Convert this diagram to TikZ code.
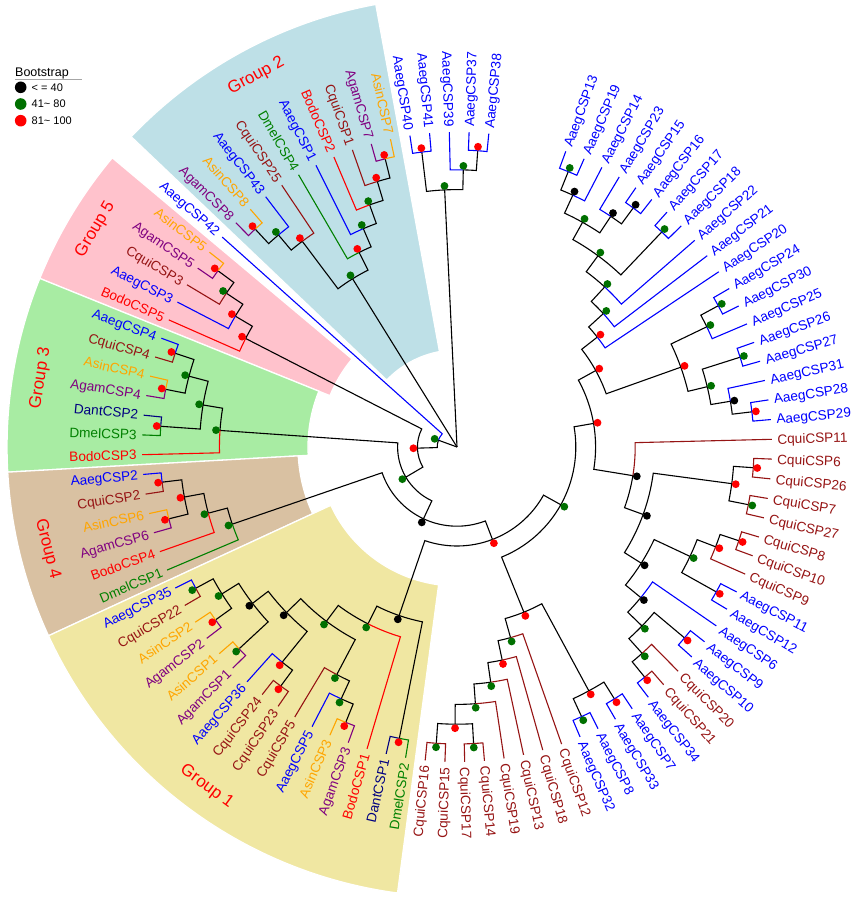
\documentclass[tikz,border=0pt]{standalone}
\usepackage{fontspec}
\setmainfont{Liberation Sans}
\definecolor{cA}{RGB}{0,0,255}
\definecolor{cC}{RGB}{150,20,20}
\definecolor{cG}{RGB}{128,0,128}
\definecolor{cS}{RGB}{255,165,0}
\definecolor{cB}{RGB}{255,0,0}
\definecolor{cD}{RGB}{0,128,0}
\definecolor{cN}{RGB}{0,0,128}
\definecolor{bsK}{RGB}{0,0,0}
\definecolor{bsG}{RGB}{0,112,0}
\definecolor{bsR}{RGB}{255,0,0}
\definecolor{gTwo}{RGB}{190,224,231}
\definecolor{gFive}{RGB}{255,194,204}
\definecolor{gThree}{RGB}{168,236,163}
\definecolor{gFour}{RGB}{217,193,162}
\definecolor{gOne}{RGB}{240,231,162}
\tikzset{
  lab/.style={inner sep=0pt, text height=9.7pt, text depth=0pt, font=\fontsize{13.6}{15}\selectfont},
  grp/.style={text=red, inner sep=0pt, font=\fontsize{17}{20}\selectfont},
  leg/.style={inner sep=0pt, anchor=west, font=\fontsize{11}{13}\selectfont},
}
% branch: parent angle, parent radius, child angle, child radius
\newcommand\brc[5][black]{\draw[#1] (#2:#3pt) arc[start angle=#2, end angle=#4, radius=#3pt] -- (#4:#5pt);}
% leaf: index, name, colour, parent angle, parent radius
\newcommand\leaf[5]{%
  \pgfmathsetmacro\th{70-3.6*#1}%
  \draw[#3] (#4:#5pt) arc[start angle=#4, end angle=\th, radius=#5pt] -- (\th:315pt);%
  \pgfmathtruncatemacro\flip{and(\th < -90, \th > -270)}%
  \ifnum\flip=1
    \pgfmathsetmacro\rot{\th+180}%
    \node[lab,text=#3,anchor=east,rotate=\rot] (#2) at (\th:320pt) {#2};%
  \else
    \node[lab,text=#3,anchor=west,rotate=\th] (#2) at (\th:320pt) {#2};%
  \fi}
% bootstrap dot: angle, radius, colour
\newcommand\bs[3]{\pgfmathsetmacro\drad{#2+4}\fill[#3] (#1:\drad pt) circle[radius=3.9pt];}
% sector: angle1, angle2, inner r, outer r, colour
\newcommand\sector[5]{\filldraw[fill=#5,draw=white,line width=1.3pt] (#1:#3pt) arc[start angle=#1,end angle=#2,radius=#3pt] -- (#2:#4pt) arc[start angle=#2,end angle=#1,radius=#4pt] -- cycle;}
\begin{document}
\begin{tikzpicture}[x=1pt,y=1pt]
\useasboundingbox (0,-901) rectangle (856,0);
\fill[white] (0,-901) rectangle (856,0);
% legend
\node[inner sep=0pt, anchor=base west, font=\fontsize{12.5}{14}\selectfont] (legtitle) at (15,-76.5) {Bootstrap};
\draw[gray!70, line width=0.9pt] (15,-79) -- (82,-79);
\fill[bsK] (20.7,-87.3) circle[radius=5.8pt];
\fill[bsG] (20.7,-104) circle[radius=5.8pt];
\fill[bsR] (20.7,-120.7) circle[radius=5.8pt];
\node[leg] (leg1) at (31.5,-87.3) {< = 40};
\node[leg] (leg2) at (31.5,-104) {41\textasciitilde{} 80};
\node[leg] (leg3) at (31.5,-120.7) {81\textasciitilde{} 100};
\begin{scope}[shift={(457,-447)},rotate=-0.2]
% group sectors
\sector{-259.4}{-223.4}{97}{450}{gTwo}
\sector{-219.8}{-201.8}{137}{450}{gFive}
\sector{-201.8}{-176.6}{149}{450}{gThree}
\sector{-176.6}{-155}{159}{450}{gFour}
\sector{-155}{-97.4}{139}{450}{gOne}
\node[grp,rotate=28.6] (grp2) at (118.6:422pt) {Group 2};
\node[grp,rotate=59.2] (grp5) at (149.2:422pt) {Group 5};
\node[grp,rotate=80.8] (grp3) at (170.8:422pt) {Group 3};
\node[grp,rotate=284.2] (grp4) at (194.2:422pt) {Group 4};
\node[grp,rotate=323.8] (grp1) at (233.8:422pt) {Group 1};
\begin{scope}[line width=1.1pt]
% root
\draw (0,0) -- (-199.875:19.8pt);
\draw (0,0) -- (-237.97:198pt);
\draw (0,0) -- (-267.05:257.4pt);
% clade A
\brc{65.5}{277.2}{68.2}{297}
\brc{61}{257.4}{65.5}{277.2}
\brc{56.5}{277.2}{53.8}{297}
\brc{61}{257.4}{56.5}{277.2}
\brc{53.8}{237.6}{61}{257.4}
\brc{53.8}{237.6}{46.6}{297}
\brc{47.5}{217.8}{53.8}{237.6}
\brc{42.55}{198}{47.5}{217.8}
\brc{38.275}{178.2}{42.55}{198}
\brc{29.05}{158.4}{38.275}{178.2}
\brc{25.9}{277.2}{28.6}{297}
\brc{19.825}{237.6}{25.9}{277.2}
\brc{13.75}{257.4}{17.8}{297}
\brc{9.7}{277.2}{7}{297}
\brc{13.75}{257.4}{9.7}{277.2}
\brc{19.825}{237.6}{13.75}{257.4}
\brc{29.05}{158.4}{19.825}{237.6}
\brc{9.995}{138.6}{29.05}{158.4}
% clade Q
\brc{-7.4}{277.2}{-3.8}{297}
\brc{-7.4}{277.2}{-11}{297}
\brc{-19.71875}{198}{-7.4}{277.2}
\brc{-20.9}{277.2}{-18.2}{297}
\brc{-24.95}{257.4}{-20.9}{277.2}
\brc{-24.95}{257.4}{-29}{297}
\brc{-32.0375}{217.8}{-24.95}{257.4}
\brc{-43.85}{257.4}{-39.8}{297}
\brc{-47.9}{277.2}{-50.6}{297}
\brc{-43.85}{257.4}{-47.9}{277.2}
\brc{-39.125}{237.6}{-43.85}{257.4}
\brc{-32.0375}{217.8}{-39.125}{237.6}
\brc{-19.71875}{198}{-32.0375}{217.8}
\brc{-9.059}{178.2}{-19.71875}{198}
\brc{9.995}{138.6}{-9.059}{178.2}
\brc{-28.88}{118.8}{9.995}{138.6}
% clade B
\brc{-61.4}{277.2}{-57.8}{297}
\brc{-61.4}{277.2}{-65}{297}
\brc{-67.756}{178.2}{-61.4}{277.2}
\brc{-90.2}{277.2}{-86.6}{297}
\brc{-90.2}{277.2}{-93.8}{297}
\brc{-85.7}{257.4}{-90.2}{277.2}
\brc{-81.65}{237.6}{-85.7}{257.4}
\brc{-77.825}{217.8}{-81.65}{237.6}
\brc{-74.1125}{198}{-77.825}{217.8}
\brc{-67.756}{178.2}{-74.1125}{198}
\brc{-28.88}{118.8}{-67.756}{178.2}
\brc{-68.82}{99}{-28.88}{118.8}
% group 1
\brc{-108.7625}{178.2}{-101}{297}
\brc{-114.5}{277.2}{-111.8}{297}
\brc{-117.65}{257.4}{-114.5}{277.2}
\brc{-126.65}{217.8}{-117.65}{257.4}
\brc{-128.9}{277.2}{-126.2}{297}
\brc{-135.65}{237.6}{-128.9}{277.2}
\brc{-142.4}{257.4}{-137}{297}
\brc{-147.8}{277.2}{-144.2}{297}
\brc{-147.8}{277.2}{-151.4}{297}
\brc{-142.4}{257.4}{-147.8}{277.2}
\brc{-135.65}{237.6}{-142.4}{257.4}
\brc{-126.65}{217.8}{-135.65}{237.6}
\brc{-116.525}{198}{-126.65}{217.8}
\brc{-108.7625}{178.2}{-116.525}{198}
\brc{-68.82}{99}{-108.7625}{178.2}
\brc{-114.835}{79.2}{-68.82}{99}
% group 4
\brc{-169.4}{277.2}{-173}{297}
\brc{-169.4}{277.2}{-165.8}{297}
\brc{-164.9}{257.4}{-169.4}{277.2}
\brc{-160.85}{237.6}{-164.9}{257.4}
\brc{-114.835}{79.2}{-160.85}{237.6}
\brc{-149.32}{59.4}{-114.835}{79.2}
% group 3
\brc{-194.6}{277.2}{-198.2}{297}
\brc{-194.6}{277.2}{-191}{297}
\brc{-189.2}{257.4}{-194.6}{277.2}
\brc{-189.2}{257.4}{-183.8}{297}
\brc{-183.8}{237.6}{-189.2}{257.4}
\brc{-149.32}{59.4}{-183.8}{237.6}
\brc{-178.15}{39.6}{-149.32}{59.4}
% group 5
\brc{-213.5}{277.2}{-216.2}{297}
\brc{-210.35}{257.4}{-213.5}{277.2}
\brc{-206.975}{237.6}{-210.35}{257.4}
\brc{-178.15}{39.6}{-206.975}{237.6}
\brc{-199.875}{19.8}{-178.15}{39.6}
% group 2
\brc{-229.7}{277.2}{-227}{297}
\brc{-232.85}{257.4}{-229.7}{277.2}
\brc{-237.97}{198}{-232.85}{257.4}
\brc{-253.1}{277.2}{-255.8}{297}
\brc{-249.95}{257.4}{-253.1}{277.2}
\brc{-246.575}{237.6}{-249.95}{257.4}
\brc{-243.0875}{217.8}{-246.575}{237.6}
\brc{-237.97}{198}{-243.0875}{217.8}
% clade 40-38
\brc{-267.05}{257.4}{-263}{297}
\brc{-271.1}{277.2}{-273.8}{297}
\brc{-267.05}{257.4}{-271.1}{277.2}
% leaves
\leaf{0}{AaegCSP13}{cA}{68.2}{297}
\leaf{1}{AaegCSP19}{cA}{68.2}{297}
\leaf{2}{AaegCSP14}{cA}{65.5}{277.2}
\leaf{3}{AaegCSP23}{cA}{56.5}{277.2}
\leaf{4}{AaegCSP15}{cA}{53.8}{297}
\leaf{5}{AaegCSP16}{cA}{53.8}{297}
\leaf{6}{AaegCSP17}{cA}{46.6}{297}
\leaf{7}{AaegCSP18}{cA}{46.6}{297}
\leaf{8}{AaegCSP22}{cA}{47.5}{217.8}
\leaf{9}{AaegCSP21}{cA}{42.55}{198}
\leaf{10}{AaegCSP20}{cA}{38.275}{178.2}
\leaf{11}{AaegCSP24}{cA}{28.6}{297}
\leaf{12}{AaegCSP30}{cA}{28.6}{297}
\leaf{13}{AaegCSP25}{cA}{25.9}{277.2}
\leaf{14}{AaegCSP26}{cA}{17.8}{297}
\leaf{15}{AaegCSP27}{cA}{17.8}{297}
\leaf{16}{AaegCSP31}{cA}{9.7}{277.2}
\leaf{17}{AaegCSP28}{cA}{7}{297}
\leaf{18}{AaegCSP29}{cA}{7}{297}
\leaf{19}{CquiCSP11}{cC}{-9.059}{178.2}
\leaf{20}{CquiCSP6}{cC}{-3.8}{297}
\leaf{21}{CquiCSP26}{cC}{-3.8}{297}
\leaf{22}{CquiCSP7}{cC}{-11}{297}
\leaf{23}{CquiCSP27}{cC}{-11}{297}
\leaf{24}{CquiCSP8}{cC}{-18.2}{297}
\leaf{25}{CquiCSP10}{cC}{-18.2}{297}
\leaf{26}{CquiCSP9}{cC}{-20.9}{277.2}
\leaf{27}{AaegCSP11}{cA}{-29}{297}
\leaf{28}{AaegCSP12}{cA}{-29}{297}
\leaf{29}{AaegCSP6}{cA}{-39.125}{237.6}
\leaf{30}{AaegCSP9}{cA}{-39.8}{297}
\leaf{31}{AaegCSP10}{cA}{-39.8}{297}
\leaf{32}{CquiCSP20}{cC}{-47.9}{277.2}
\leaf{33}{CquiCSP21}{cC}{-50.6}{297}
\leaf{34}{AaegCSP34}{cA}{-50.6}{297}
\leaf{35}{AaegCSP7}{cA}{-57.8}{297}
\leaf{36}{AaegCSP33}{cA}{-57.8}{297}
\leaf{37}{AaegCSP8}{cA}{-65}{297}
\leaf{38}{AaegCSP32}{cA}{-65}{297}
\leaf{39}{CquiCSP12}{cC}{-74.1125}{198}
\leaf{40}{CquiCSP18}{cC}{-77.825}{217.8}
\leaf{41}{CquiCSP13}{cC}{-81.65}{237.6}
\leaf{42}{CquiCSP19}{cC}{-85.7}{257.4}
\leaf{43}{CquiCSP14}{cC}{-86.6}{297}
\leaf{44}{CquiCSP17}{cC}{-86.6}{297}
\leaf{45}{CquiCSP15}{cC}{-93.8}{297}
\leaf{46}{CquiCSP16}{cC}{-93.8}{297}
\leaf{47}{DmelCSP2}{cD}{-101}{297}
\leaf{48}{DantCSP1}{cN}{-101}{297}
\leaf{49}{BodoCSP1}{cB}{-116.525}{198}
\leaf{50}{AgamCSP3}{cG}{-111.8}{297}
\leaf{51}{AsinCSP3}{cS}{-111.8}{297}
\leaf{52}{AaegCSP5}{cA}{-114.5}{277.2}
\leaf{53}{CquiCSP5}{cC}{-117.65}{257.4}
\leaf{54}{CquiCSP23}{cC}{-126.2}{297}
\leaf{55}{CquiCSP24}{cC}{-126.2}{297}
\leaf{56}{AaegCSP36}{cA}{-128.9}{277.2}
\leaf{57}{AgamCSP1}{cG}{-137}{297}
\leaf{58}{AsinCSP1}{cS}{-137}{297}
\leaf{59}{AgamCSP2}{cG}{-144.2}{297}
\leaf{60}{AsinCSP2}{cS}{-144.2}{297}
\leaf{61}{CquiCSP22}{cC}{-151.4}{297}
\leaf{62}{AaegCSP35}{cA}{-151.4}{297}
\leaf{63}{DmelCSP1}{cD}{-160.85}{237.6}
\leaf{64}{BodoCSP4}{cB}{-164.9}{257.4}
\leaf{65}{AgamCSP6}{cG}{-165.8}{297}
\leaf{66}{AsinCSP6}{cS}{-165.8}{297}
\leaf{67}{CquiCSP2}{cC}{-173}{297}
\leaf{68}{AaegCSP2}{cA}{-173}{297}
\leaf{69}{BodoCSP3}{cB}{-183.8}{237.6}
\leaf{70}{DmelCSP3}{cD}{-183.8}{297}
\leaf{71}{DantCSP2}{cN}{-183.8}{297}
\leaf{72}{AgamCSP4}{cG}{-191}{297}
\leaf{73}{AsinCSP4}{cS}{-191}{297}
\leaf{74}{CquiCSP4}{cC}{-198.2}{297}
\leaf{75}{AaegCSP4}{cA}{-198.2}{297}
\leaf{76}{BodoCSP5}{cB}{-206.975}{237.6}
\leaf{77}{AaegCSP3}{cA}{-210.35}{257.4}
\leaf{78}{CquiCSP3}{cC}{-213.5}{277.2}
\leaf{79}{AgamCSP5}{cG}{-216.2}{297}
\leaf{80}{AsinCSP5}{cS}{-216.2}{297}
\leaf{81}{AaegCSP42}{cA}{-199.875}{19.8}
\leaf{82}{AgamCSP8}{cG}{-227}{297}
\leaf{83}{AsinCSP8}{cS}{-227}{297}
\leaf{84}{AaegCSP43}{cA}{-229.7}{277.2}
\leaf{85}{CquiCSP25}{cC}{-232.85}{257.4}
\leaf{86}{DmelCSP4}{cD}{-243.0875}{217.8}
\leaf{87}{AaegCSP1}{cA}{-246.575}{237.6}
\leaf{88}{BodoCSP2}{cB}{-249.95}{257.4}
\leaf{89}{CquiCSP1}{cC}{-253.1}{277.2}
\leaf{90}{AgamCSP7}{cG}{-255.8}{297}
\leaf{91}{AsinCSP7}{cS}{-255.8}{297}
\leaf{92}{AaegCSP40}{cA}{-263}{297}
\leaf{93}{AaegCSP41}{cA}{-263}{297}
\leaf{94}{AaegCSP39}{cA}{-271.1}{277.2}
\leaf{95}{AaegCSP37}{cA}{-273.8}{297}
\leaf{96}{AaegCSP38}{cA}{-273.8}{297}
\end{scope}
% bootstrap dots
\bs{68.2}{297}{bsG}
\bs{65.5}{277.2}{bsK}
\bs{53.8}{297}{bsK}
\bs{56.5}{277.2}{bsK}
\bs{61}{257.4}{bsG}
\bs{46.6}{297}{bsG}
\bs{53.8}{237.6}{bsG}
\bs{47.5}{217.8}{bsG}
\bs{42.55}{198}{bsG}
\bs{38.275}{178.2}{bsR}
\bs{28.6}{297}{bsG}
\bs{25.9}{277.2}{bsG}
\bs{17.8}{297}{bsG}
\bs{7}{297}{bsR}
\bs{9.7}{277.2}{bsK}
\bs{13.75}{257.4}{bsG}
\bs{19.825}{237.6}{bsR}
\bs{29.05}{158.4}{bsR}
\bs{-3.8}{297}{bsR}
\bs{-11}{297}{bsG}
\bs{-7.4}{277.2}{bsR}
\bs{-18.2}{297}{bsR}
\bs{-20.9}{277.2}{bsR}
\bs{-29}{297}{bsR}
\bs{-24.95}{257.4}{bsG}
\bs{-39.8}{297}{bsR}
\bs{-50.6}{297}{bsR}
\bs{-47.9}{277.2}{bsG}
\bs{-43.85}{257.4}{bsG}
\bs{-39.125}{237.6}{bsK}
\bs{-32.0375}{217.8}{bsK}
\bs{-19.71875}{198}{bsK}
\bs{-9.059}{178.2}{bsK}
\bs{9.995}{138.6}{bsR}
\bs{-57.8}{297}{bsR}
\bs{-65}{297}{bsG}
\bs{-61.4}{277.2}{bsR}
\bs{-86.6}{297}{bsG}
\bs{-93.8}{297}{bsG}
\bs{-90.2}{277.2}{bsR}
\bs{-85.7}{257.4}{bsG}
\bs{-81.65}{237.6}{bsG}
\bs{-77.825}{217.8}{bsR}
\bs{-74.1125}{198}{bsG}
\bs{-67.756}{178.2}{bsR}
\bs{-28.88}{118.8}{bsG}
\bs{-101}{297}{bsR}
\bs{-111.8}{297}{bsR}
\bs{-114.5}{277.2}{bsG}
\bs{-117.65}{257.4}{bsG}
\bs{-126.2}{297}{bsR}
\bs{-128.9}{277.2}{bsR}
\bs{-137}{297}{bsG}
\bs{-144.2}{297}{bsR}
\bs{-151.4}{297}{bsG}
\bs{-147.8}{277.2}{bsG}
\bs{-142.4}{257.4}{bsK}
\bs{-135.65}{237.6}{bsK}
\bs{-126.65}{217.8}{bsG}
\bs{-116.525}{198}{bsG}
\bs{-108.7625}{178.2}{bsK}
\bs{-68.82}{99}{bsR}
\bs{-173}{297}{bsR}
\bs{-165.8}{297}{bsR}
\bs{-169.4}{277.2}{bsR}
\bs{-164.9}{257.4}{bsG}
\bs{-160.85}{237.6}{bsG}
\bs{-114.835}{79.2}{bsK}
\bs{-198.2}{297}{bsR}
\bs{-191}{297}{bsR}
\bs{-194.6}{277.2}{bsG}
\bs{-183.8}{297}{bsR}
\bs{-189.2}{257.4}{bsG}
\bs{-183.8}{237.6}{bsG}
\bs{-149.32}{59.4}{bsG}
\bs{-216.2}{297}{bsR}
\bs{-213.5}{277.2}{bsG}
\bs{-210.35}{257.4}{bsR}
\bs{-206.975}{237.6}{bsR}
\bs{-178.15}{39.6}{bsR}
\bs{-199.875}{19.8}{bsG}
\bs{-227}{297}{bsR}
\bs{-229.7}{277.2}{bsG}
\bs{-232.85}{257.4}{bsR}
\bs{-255.8}{297}{bsR}
\bs{-253.1}{277.2}{bsR}
\bs{-249.95}{257.4}{bsG}
\bs{-246.575}{237.6}{bsG}
\bs{-243.0875}{217.8}{bsR}
\bs{-237.97}{198}{bsG}
\bs{-263}{297}{bsR}
\bs{-273.8}{297}{bsR}
\bs{-271.1}{277.2}{bsG}
\bs{-267.05}{257.4}{bsG}
\end{scope}
\end{tikzpicture}
\end{document}
